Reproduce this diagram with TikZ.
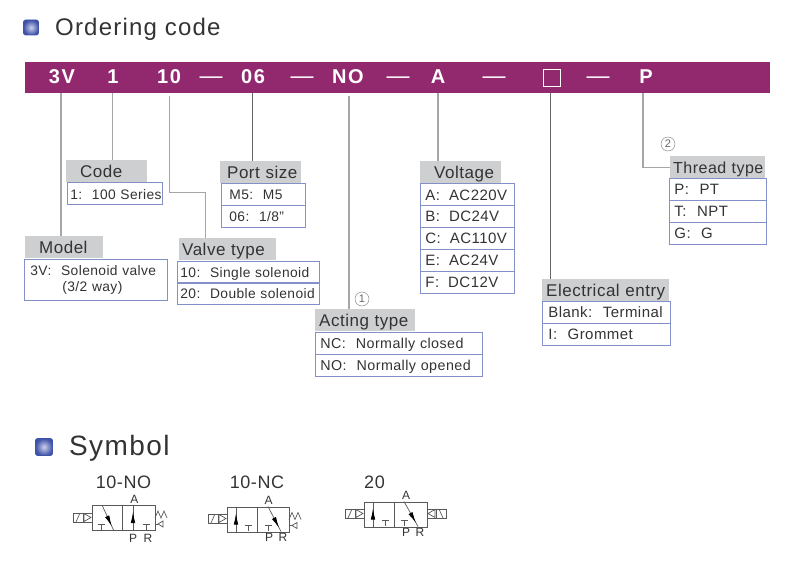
\documentclass[tikz,border=0pt]{standalone}
\usepackage{fontspec}
\setmainfont{Liberation Sans}[LetterSpace=3]
\newfontfamily\titlefont{Liberation Sans}[LetterSpace=5]
\newfontfamily\barfont{Liberation Sans Bold}[LetterSpace=8]
\usetikzlibrary{arrows.meta,positioning,calc}
\usetikzlibrary{decorations.markings}
\definecolor{barpurple}{HTML}{92296F}
\definecolor{hdrgray}{HTML}{CDCFD0}
\definecolor{rowblue}{HTML}{8490C8}
\definecolor{inkgray}{HTML}{333333}
\definecolor{bulletblue}{HTML}{3F54A8}
\definecolor{bulletpale}{HTML}{CDD0EC}
\tikzset{
solenoid/.pic={
\draw[symline] (0,0) rectangle (19,9);
\draw[symline] (10,0)--(10,9);
\draw[symline] (3,9)--(7,0);
\draw[symline] (11,.5)--(18,4.5)--(11,8.5)--cycle;
},
springend/.pic={
\draw[symline] (0,13)--(3,6)--(6,13)--(9,6)--(12,13);
\draw[symline] (0,19)--(3,19);
\draw[symline] (3,19)--(8,16)--(8,22)--cycle;
},
tee/.pic={
\draw[symline] (-3.5,0)--(3.5,0);
\draw[symline] (0,0)--(0,6);
}
}
\begin{document}
\begin{tikzpicture}[x=1pt,y=-1pt,
symline/.style={draw=black!65,line width=.7pt},
flowdown/.style={symline,decoration={markings,mark=at position .85 with {\arrow{Latex[length=11pt,width=4.5pt,black]}}},postaction={decorate}},
flowup/.style={symline,decoration={markings,mark=at position .72 with {\arrow{Latex[length=11pt,width=4.5pt,black]}}},postaction={decorate}},
lead/.style={draw=black!35,line width=.8pt},
leadfat/.style={draw=black!35,line width=1.2pt},
leaddark/.style={draw=black!60,line width=.9pt},
bullet/.style={rounded corners=2pt,inner sep=0pt,shading=radial,inner color=bulletpale,outer color=bulletblue,draw=bulletblue,line width=.6pt},
heading/.style={anchor=west,inner sep=0pt,text=inkgray},
code/.style={text=white,inner sep=0pt,font=\barfont\fontsize{20}{22}\selectfont},
coderule/.style={text=white,inner sep=0pt,font=\fontsize{23}{24}\selectfont},
hdr/.style 2 args={anchor=north west,fill=hdrgray,inner xsep=0pt,inner ysep=0pt,text=inkgray,text width=#1pt,align=left,minimum height=22pt,text height=15pt,text depth=2pt,font=\fontsize{17}{19}\selectfont,execute at begin node={\hspace*{#2pt}}},
row/.style 2 args={anchor=north west,draw=rowblue,line width=.8pt,inner xsep=0pt,inner ysep=0pt,text=inkgray,text width=#1pt,align=left,minimum height=22pt,text height=13pt,text depth=2pt,font=\fontsize{13.8}{16}\selectfont,execute at begin node={\hspace*{#2pt}}},
rowwide/.style={font=\fontsize{15}{16}\selectfont},
rowmid/.style={font=\fontsize{14.3}{16}\selectfont},
tworow/.style 2 args={anchor=north west,draw=rowblue,line width=.8pt,inner xsep=0pt,inner ysep=0pt,text=inkgray,text width=#1pt,align=left,minimum height=41pt,font=\fontsize{13.8}{16}\selectfont,execute at begin node={\hspace*{#2pt}}},
mark1/.style={circle,draw=black!45,line width=.5pt,inner sep=0pt,minimum size=14pt,text=black!60,font=\fontsize{11}{11}\selectfont},
valvebox/.style={anchor=north west,symline,inner sep=0pt,minimum height=25pt},
portname/.style={inner sep=0pt,text=inkgray,font=\fontsize{12}{12}\selectfont},
typename/.style={inner sep=0pt,text=inkgray,font=\fontsize{18}{18}\selectfont}]
\useasboundingbox (0,0) rectangle (800,588);
\node[bullet,minimum size=15pt] (bulletOrder) at (31,27.5) {};
\node[heading,font=\titlefont\fontsize{24}{26}\selectfont] (titleOrder) at (55,29) {Ordering~code};
\node[anchor=north west,fill=barpurple,inner sep=0pt,minimum width=745pt,minimum height=31pt] (bar) at (24.5,62) {};
\node[code] (c3V) at (62,77) {3V};
\node[code] (c1) at (113,77) {1};
\node[code] (c10) at (169,77) {10};
\node[coderule] (dash1) at (211,80) {—};
\node[code] (c06) at (253,77) {06};
\node[coderule] (dash2) at (302,80) {—};
\node[code] (cNO) at (348,77) {NO};
\node[coderule] (dash3) at (398,80) {—};
\node[code] (cA) at (438,77) {A};
\node[coderule] (dash4) at (494,80) {—};
\node[draw=white,line width=.8pt,inner sep=0pt,minimum size=17pt] (cBlank) at (552,77.5) {};
\node[coderule] (dash5) at (598,80) {—};
\node[code] (cP) at (646,77) {P};
\coordinate (j3V) at (61,93);
\coordinate (j1) at (112.5,93);
\coordinate (j10) at (169,96);
\coordinate (k10) at (205,192);
\coordinate (j06) at (252,93);
\coordinate (jNO) at (349,96);
\coordinate (jA) at (438,93);
\coordinate (jBlank) at (550,93);
\coordinate (jP) at (643,93);
\node[hdr={81}{14}] (hCode) at (66,160) {Code};
\node[row={94.5}{3}] (rCode) at (67,182.5) {1:\hspace{.7em}100~Series};
\node[hdr={81}{7}] (hPort) at (220,161) {Port~size};
\node[row={84}{8}] (rPort1) at (221,183) {M5:\hspace{.7em}M5};
\node[row={84}{8}] (rPort2) at (221,205) {06:\hspace{.7em}1/8"};
\node[hdr={78}{14}] (hModel) at (25,236) {Model};
\node[tworow={143}{6}] (rModel) at (24,259) {3V:\hspace{.7em}Solenoid~valve\\\hspace*{38pt}(3/2~way)};
\node[hdr={97}{3}] (hValve) at (179,238) {Valve~type};
\node[row={142}{3}] (rValve1) at (177,260.5) {10:\hspace{.7em}Single~solenoid};
\node[row={142}{3}] (rValve2) at (177,282) {20:\hspace{.7em}Double~solenoid};
\node[hdr={81}{14}] (hVolt) at (420,161) {Voltage};
\node[row={94}{5},rowwide] (rVoltA) at (420,183.5) {A:\hspace{.6em}AC220V};
\node[row={94}{5},rowwide] (rVoltB) at (420,205) {B:\hspace{.6em}DC24V};
\node[row={94}{5},rowwide] (rVoltC) at (420,227) {C:\hspace{.6em}AC110V};
\node[row={94}{5},rowwide] (rVoltE) at (420,249) {E:\hspace{.6em}AC24V};
\node[row={94}{5},rowwide] (rVoltF) at (420,270.5) {F:\hspace{.6em}DC12V};
\node[hdr={95}{3},font=\fontsize{16}{19}\selectfont] (hThread) at (670,156) {Thread~type};
\node[row={97}{5},rowwide] (rThreadP) at (669,178) {P:\hspace{.7em}PT};
\node[row={97}{5},rowwide] (rThreadT) at (669,200) {T:\hspace{.7em}NPT};
\node[row={97}{5},rowwide] (rThreadG) at (669,221.5) {G:\hspace{.7em}G};
\node[mark1] (note2) at (668,144) {2};
\node[hdr={100}{4}] (hActing) at (315,309) {Acting~type};
\node[row={167}{5},rowmid] (rActC) at (315,332) {NC:\hspace{.7em}Normally~closed};
\node[row={167}{5},rowmid] (rActO) at (315,353.5) {NO:\hspace{.7em}Normally~opened};
\node[mark1] (note1) at (362,299) {1};
\node[hdr={127}{4}] (hEntry) at (542,279) {Electrical~entry};
\node[row={128}{6},rowwide] (rEntry1) at (542,301) {Blank:\hspace{.7em}Terminal};
\node[row={128}{6},rowwide] (rEntry2) at (542,323) {I:\hspace{.7em}Grommet};
\draw[leadfat] (j3V)--(j3V |- hModel.north);
\draw[lead] (j1)--(j1 |- hCode.north);
\draw[lead] (j10)|-(k10)--(k10 |- hValve.north);
\draw[leaddark] (j06)--(j06 |- hPort.north);
\draw[leadfat] (jNO)--(jNO |- hActing.north);
\draw[leadfat] (jA)--(jA |- hVolt.north);
\draw[leaddark] (jBlank)--(jBlank |- hEntry.north);
\draw[leadfat] (jP)|-(hThread.west);
\node[bullet,minimum size=17pt] (bulletSym) at (44,447) {};
\node[heading,font=\titlefont\fontsize{28}{30}\selectfont] (titleSym) at (69,448) {Symbol};
\node[typename] (nameNO) at (123.5,482) {10-NO};
\node[valvebox,minimum width=30pt] (leftNO) at (92,505) {};
\node[valvebox,minimum width=33pt] (rightNO) at (122,505) {};
\pic at (73,513) {solenoid};
\pic at (155,505) {springend};
\pic at (101,524) {tee};
\pic at (146,524) {tee};
\draw[flowdown] (102,505)--(113.5,530);
\draw[flowup] (133,530)--(133,505);
\node[portname] (aNO) at (134.5,499.5) {A};
\node[portname] (pNO) at (133,538) {P};
\node[portname] (rNO) at (148,538) {R};
\node[typename] (nameNC) at (257,482) {10-NC};
\node[valvebox,minimum width=30pt] (leftNC) at (227,506.5) {};
\node[valvebox,minimum width=32pt] (rightNC) at (257,506.5) {};
\pic at (208,514) {solenoid};
\pic at (289,506.5) {springend};
\pic at (248,525) {tee};
\pic at (268,525) {tee};
\draw[flowdown] (268,506.5)--(281,531.5);
\draw[flowup] (236,531.5)--(236,506.5);
\node[portname] (aNC) at (268.5,500) {A};
\node[portname] (pNC) at (269,537) {P};
\node[portname] (rNC) at (283,537) {R};
\node[typename] (name20) at (374.5,482) {20};
\node[valvebox,minimum width=30pt] (left20) at (364,501.5) {};
\node[valvebox,minimum width=33pt] (right20) at (394,501.5) {};
\pic at (345,509) {solenoid};
\pic[xscale=-1] at (446,509) {solenoid};
\pic at (385,520) {tee};
\pic at (404,520) {tee};
\draw[flowdown] (404,501.5)--(418,526.5);
\draw[flowup] (373,526.5)--(373,501.5);
\node[portname] (a20) at (406,495) {A};
\node[portname] (p20) at (406,532) {P};
\node[portname] (r20) at (420,532) {R};
\end{tikzpicture}
\end{document}
